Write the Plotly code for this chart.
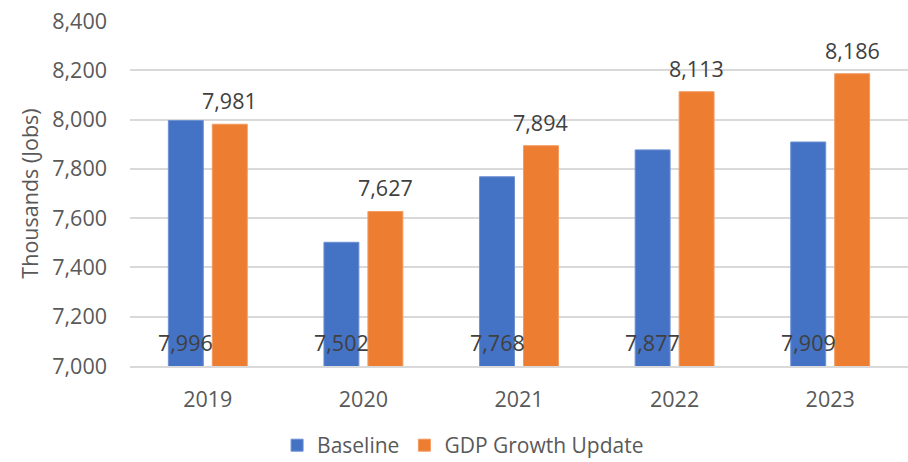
import plotly.graph_objects as go

years = ["2019", "2020", "2021", "2022", "2023"]
baseline = [7996, 7502, 7768, 7877, 7909]
gdp_update = [7981, 7627, 7894, 8113, 8186]

y_ticks = [7000, 7200, 7400, 7600, 7800, 8000, 8200, 8400]

BLUE = "#4472C4"
ORANGE = "#ED7D31"
FONT = "Open Sans"
FS = 21.5

fig = go.Figure()
fig.add_trace(go.Bar(
    x=years, y=baseline, name="Baseline",
    marker=dict(color=BLUE, line=dict(color="#6d90d3", width=1)),
))
fig.add_trace(go.Bar(
    x=years, y=gdp_update, name="GDP Growth Update",
    marker=dict(color=ORANGE, line=dict(color="#f29a5f", width=1)),
))

bargap = 0.435
slot = (1 - bargap) / 2
annotations = []
for i, (b, g) in enumerate(zip(baseline, gdp_update)):
    annotations.append(dict(
        x=i - slot / 2, y=y_ticks[0], text=f"{b:,}", showarrow=False,
        xref="x", yref="y", yanchor="middle", yshift=24,
        font=dict(family=FONT, size=FS, color="#404040"),
    ))
    annotations.append(dict(
        x=i + slot / 2, y=g, text=f"{g:,}", showarrow=False,
        xref="x", yref="y", yanchor="bottom", yshift=7,
        font=dict(family=FONT, size=FS, color="#404040"),
    ))

fig.update_layout(
    width=908, height=462,
    margin=dict(l=130, r=0, t=21, b=96),
    paper_bgcolor="white", plot_bgcolor="white",
    barmode="group", bargap=bargap, bargroupgap=0.205,
    font=dict(family=FONT, size=FS, color="#595959"),
    showlegend=True,
    legend=dict(
        orientation="h", xref="container", yref="container",
        x=0.51, xanchor="center", y=0.08, yanchor="top",
        font=dict(family=FONT, size=21, color="#595959"),
        itemwidth=30, traceorder="normal",
    ),
    annotations=annotations,
)
fig.update_xaxes(
    type="category", showgrid=False, showline=True,
    linecolor="#d9d9d9", linewidth=1.5, ticks="",
    ticklabelstandoff=13, tickfont=dict(size=FS, color="#595959"),
)
fig.update_yaxes(
    range=[7000, 8400], tickvals=y_ticks,
    ticktext=[f"{v:,}" for v in y_ticks],
    showgrid=True, gridcolor="#d9d9d9", gridwidth=1.5,
    zeroline=False, showline=False, ticks="",
    ticklabelstandoff=22, tickfont=dict(size=FS, color="#595959"),
    title=dict(text="Thousands (Jobs)", standoff=7,
               font=dict(size=FS, color="#595959")),
)

fig.write_html("out.html")
